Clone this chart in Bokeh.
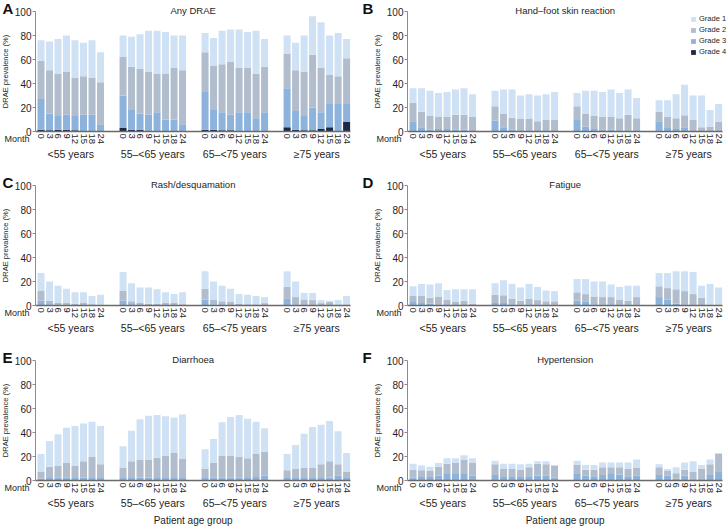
import math
from bokeh.plotting import figure
from bokeh.layouts import gridplot
from bokeh.models import (Range1d, FixedTicker, Label, Legend, LegendItem,
                          ColumnDataSource, LinearAxis)
from bokeh.embed import file_html
from bokeh.resources import INLINE

groups = ["<55 years", "55\u2013<65 years", "65\u2013<75 years", "\u226575 years"]
months = ["0", "3", "6", "9", "12", "15", "18", "24"]
grade_labels = ["Grade 1", "Grade 2", "Grade 3", "Grade 4"]
grade_colors = ["#cfe1f5", "#b1bdcd", "#8db3dc", "#1c2943"]

# cumulative levels (total, top of grade 2, top of grade 3, top of grade 4)
any_total = [76, 75, 77, 80, 76, 74, 76, 66, 80, 79, 81, 84, 84, 83, 80, 80,
             82, 78, 84, 85, 85, 83, 84, 77, 80, 74, 80, 96, 91, 80, 82, 77]
any_g2 = [59, 51, 48, 50, 45, 46, 45, 41, 62, 54, 52, 50, 48, 48, 53, 51,
          66, 55, 56, 58, 53, 53, 48, 54, 65, 51, 50, 64, 53, 47, 46, 61]
any_g3 = [27, 15, 13, 14, 13, 14, 14, 6, 30, 18, 15, 14, 16, 10, 10, 6,
          33, 18, 16, 14, 16, 16, 11, 16, 36, 17, 13, 20, 16, 23, 23, 23]
any_g4 = [1.5, 1, 1.5, 1.5, 1, 0, 0, 0, 3, 1.5, 1.5, 0.5, 0, 0, 0, 0,
          1.5, 1.5, 1, 1, 0, 0, 0, 0, 3.5, 1.5, 1, 1, 2, 3.5, 0, 8]

hfs_total = [36, 36, 34, 32, 33, 35, 36, 31, 34, 35, 35, 30, 31, 30, 31, 33,
             32, 34, 34, 33, 35, 32, 35, 28, 26, 26, 31, 39, 30, 30, 18, 23]
hfs_g2 = [24, 16.5, 13, 12, 12.5, 14, 14, 12, 21, 14.5, 11.5, 10.5, 10.5, 8.5, 10, 9.5,
          21, 15, 13, 12, 12, 11, 14, 11, 16.5, 12, 11, 13.5, 9.5, 3.5, 4, 8]
hfs_g3 = [8.5, 3.5, 1.5, 2, 2, 1.5, 1.5, 0, 9, 3.5, 1.5, 1, 1, 0.5, 1, 0.5,
          9.5, 4, 2, 1.5, 1.5, 1, 1, 0.5, 8.5, 3, 2, 3.5, 0, 0, 0, 0]
hfs_g4 = [0, 0, 0, 0, 0, 0, 0, 0, 0, 0, 0, 0, 0, 0, 0, 0,
          0, 0, 0, 0, 0, 0, 0, 0, 0, 0, 0, 0, 0, 0, 0, 0]

rash_total = [27, 20, 16.5, 14, 11, 11, 8, 9, 28, 18.5, 15, 15, 13.5, 11, 9.5, 11,
              28.5, 20, 16.5, 14, 9.5, 9, 8, 7, 28.5, 20, 10.5, 10.5, 4.5, 4, 4.5, 8]
rash_g2 = [12, 4, 2, 2.5, 1.5, 2.5, 1, 0, 12, 3.5, 2, 1.5, 1.5, 2.5, 2.5, 1,
           14, 5, 3.5, 3, 1.5, 1, 1, 2, 15.5, 7, 5, 4.5, 2, 3, 0, 0]
rash_g3 = [4, 0.5, 0, 0, 0, 0, 0, 0, 4, 0.5, 0, 0, 0, 0, 0, 0,
           5, 1, 0, 0, 0, 0, 0, 0, 5.5, 0.5, 0, 0, 0, 0, 0, 0]

fat_total = [16, 18, 17.5, 18.5, 13, 13.5, 13.5, 13.5, 18.5, 21, 18, 15, 18, 15.5, 12.5, 12,
             22, 22, 20, 20, 17.5, 15.5, 16.5, 16.5, 27, 27, 28.5, 28.5, 28, 16.5, 18, 15]
fat_g2 = [8, 8, 6.5, 7.5, 4.5, 3, 4, 1.5, 9, 8.5, 5.5, 4, 5.5, 4.5, 3.5, 3.5,
          11, 9.5, 7.5, 7, 7, 5, 4, 7, 16, 14.5, 13.5, 12, 9.5, 6.5, 0, 0]
fat_g3 = [3, 2, 1.5, 1, 1, 0.5, 0.5, 0.5, 2, 2, 1, 1, 1, 0.5, 0.5, 0.5,
          4, 3, 1, 1, 1, 0.5, 0.5, 0.5, 7, 5, 1.5, 1, 0.5, 0, 0, 0]

dia_total = [22, 33, 38.5, 44, 45.5, 47.5, 49, 45.5, 28.5, 41.5, 51, 54, 54.5, 53.5, 52.5, 55,
             26, 34.5, 48.5, 53, 54.5, 51.5, 49, 43.5, 22, 29.5, 39, 44.5, 46.5, 49.5, 41, 23]
dia_g2 = [7.5, 11.5, 12.5, 14.5, 12, 16, 19.5, 13.5, 10.5, 16, 17.5, 17, 19, 20.5, 23, 18,
          10, 15, 20.5, 20.5, 19.5, 18.5, 22.5, 24, 8.5, 10, 10.5, 10.5, 13.5, 16, 13.5, 7.5]
dia_g3 = [1.5, 2, 2.5, 2.5, 2, 2.5, 2, 2, 2, 2, 2.5, 2.5, 2, 2, 2, 2,
          2, 2.5, 2.5, 2.5, 2.5, 2, 3, 4, 2, 2, 2, 2, 2, 2.5, 4, 2]

hyp_total = [14, 12.5, 11.5, 14.5, 18.5, 18.5, 21, 18.5, 16.5, 14, 14, 13.5, 14, 16, 16, 12.5,
             16.5, 13, 13, 15, 15, 15, 15, 17.5, 13.5, 9.5, 11, 15, 16, 13, 17.5, 22.5]
hyp_g2 = [9, 8.5, 8, 11.5, 14, 14.5, 17.5, 15, 13.5, 10, 9.5, 9, 11, 14, 13.5, 12.5,
          13, 9, 9, 11, 11, 11, 9.5, 10.5, 11, 8, 6, 9, 7, 10, 13.5, 22.5]
hyp_g3 = [2.5, 3, 3, 4, 5.5, 5.5, 5.5, 4, 4.5, 3, 3.5, 3, 3.5, 4, 4, 2.5,
          5.5, 4, 3.5, 4.5, 5.5, 5, 3.5, 4, 4.5, 4, 1.5, 4, 0, 0, 4.5, 7]

panels = [
    ("A", "Any DRAE", any_total, any_g2, any_g3, any_g4),
    ("B", "Hand\u2013foot skin reaction", hfs_total, hfs_g2, hfs_g3, hfs_g4),
    ("C", "Rash/desquamation", rash_total, rash_g2, rash_g3, None),
    ("D", "Fatigue", fat_total, fat_g2, fat_g3, None),
    ("E", "Diarrhoea", dia_total, dia_g2, dia_g3, None),
    ("F", "Hypertension", hyp_total, hyp_g2, hyp_g3, None),
]

FONT = "Liberation Sans"
TXT = "#1e1e1e"

# layout (pixels) and x-unit geometry
col_w = [360, 367]
col_axis = [35, 47]
row_h = [174, 175, 177]
TOP = 11          # px from figure top to the 100 line
PX_PER_PCT = 1.2
PX_PER_XU = 0.425
BAR_PITCH = 20
GROUP_PITCH = 193
FIRST = 13
BAR_W = 16.5

bar_x = [g * GROUP_PITCH + FIRST + m * BAR_PITCH
         for g in range(len(groups)) for m in range(len(months))]
month_ticks = {bar_x[g * len(months) + m]: months[m]
               for g in range(len(groups)) for m in range(len(months))}
group_x = [g * GROUP_PITCH + FIRST + (len(months) - 1) * BAR_PITCH // 2
           for g in range(len(groups))]
x_end = bar_x[-1] + BAR_PITCH // 2


def make_panel(i, letter, title, tot, g2, g3, g4):
    row, col = divmod(i, 2)
    W, H = col_w[col], row_h[row]
    ax = col_axis[col]
    x0 = -ax / PX_PER_XU
    x1 = (W - ax) / PX_PER_XU
    y1 = 100 + TOP / PX_PER_PCT
    y0 = -(H - TOP - 100 * PX_PER_PCT) / PX_PER_PCT
    p = figure(x_range=Range1d(x0, x1), y_range=Range1d(y0, y1),
               width=W, height=H, output_backend="svg", toolbar_location=None,
               x_axis_type=None, y_axis_type=None,
               min_border=0, min_border_left=0, min_border_right=0,
               min_border_top=0, min_border_bottom=0)
    p.title.visible = False
    p.outline_line_color = None
    p.background_fill_color = "white"
    p.border_fill_color = "white"

    data = dict(x=bar_x, tot=tot, g2=g2, g3=g3)
    if g4 is not None:
        data["g4"] = g4
    src = ColumnDataSource(data)
    rends = {}
    if g4 is not None:
        rends[4] = p.vbar(x="x", bottom=0, top="g4", width=BAR_W, source=src,
                          fill_color=grade_colors[3], line_color=None)
        rends[3] = p.vbar(x="x", bottom="g4", top="g3", width=BAR_W, source=src,
                          fill_color=grade_colors[2], line_color=None)
    else:
        rends[3] = p.vbar(x="x", bottom=0, top="g3", width=BAR_W, source=src,
                          fill_color=grade_colors[2], line_color=None)
    rends[2] = p.vbar(x="x", bottom="g3", top="g2", width=BAR_W, source=src,
                      fill_color=grade_colors[1], line_color=None)
    rends[1] = p.vbar(x="x", bottom="g2", top="tot", width=BAR_W, source=src,
                      fill_color=grade_colors[0], line_color=None)

    # y axis (fixed at x = 0)
    ya = LinearAxis(fixed_location=0, bounds=(0, 100),
                    ticker=FixedTicker(ticks=[0, 20, 40, 60, 80, 100]))
    ya.minor_tick_line_color = None
    ya.major_tick_in = 0
    ya.major_tick_out = 3
    ya.axis_line_color = "#8c8c8c"
    ya.major_tick_line_color = "#8c8c8c"
    ya.major_label_text_font = FONT
    ya.major_label_text_font_size = "10px"
    ya.major_label_text_color = TXT
    ya.major_label_standoff = 1
    p.add_layout(ya, "left")

    # month axis (fixed at y = 0)
    xa = LinearAxis(fixed_location=0, bounds=(0, x_end),
                    ticker=FixedTicker(ticks=bar_x),
                    major_label_overrides=month_ticks)
    xa.axis_line_color = "#6a6a6a"
    xa.axis_line_width = 1.3
    xa.major_tick_line_color = None
    xa.major_tick_in = 0
    xa.major_tick_out = 0
    xa.minor_tick_line_color = None
    xa.major_label_orientation = -math.pi / 2
    xa.major_label_text_font = FONT
    xa.major_label_text_font_size = "9.5px"
    xa.major_label_text_color = TXT
    xa.major_label_standoff = 2
    p.add_layout(xa, "below")

    # age-group axis
    ga = LinearAxis(fixed_location=0, ticker=FixedTicker(ticks=group_x),
                    major_label_overrides={gx: gname for gx, gname in zip(group_x, groups)})
    ga.axis_line_color = None
    ga.major_tick_line_color = None
    ga.minor_tick_line_color = None
    ga.major_tick_in = 0
    ga.major_tick_out = 0
    ga.major_label_text_font = FONT
    ga.major_label_text_font_size = "10.5px"
    ga.major_label_text_color = TXT
    ga.major_label_standoff = 16
    p.add_layout(ga, "below")

    bars_cx = ax + (x_end / 2) * PX_PER_XU
    p.add_layout(Label(x=bars_cx, y=H - 10, x_units="screen", y_units="screen",
                       text=title, text_align="center", text_baseline="middle",
                       text_font=FONT, text_font_size="9.5px", text_color=TXT))
    p.add_layout(Label(x=2, y=H + 1, x_units="screen", y_units="screen",
                       text=letter, text_align="left", text_baseline="top",
                       text_font=FONT, text_font_size="15px",
                       text_font_style="bold", text_color="#111111"))
    p.add_layout(Label(x=ax - 30, y=H - TOP - 50 * PX_PER_PCT, x_units="screen",
                       y_units="screen", angle=math.pi / 2,
                       text="DRAE prevalence (%)", text_align="center",
                       text_baseline="middle", text_font=FONT,
                       text_font_size="7.5px", text_color=TXT))
    p.add_layout(Label(x=ax - 6, y=H - TOP - 100 * PX_PER_PCT - 2,
                       x_units="screen", y_units="screen", text="Month",
                       text_align="right", text_baseline="top", text_font=FONT,
                       text_font_size="9px", text_color=TXT))
    if row == 2:
        p.add_layout(Label(x=bars_cx, y=6, x_units="screen", y_units="screen",
                           text="Patient age group", text_align="center",
                           text_baseline="middle", text_font=FONT,
                           text_font_size="10px", text_color=TXT))

    if letter == "B":
        items = [LegendItem(label=grade_labels[k - 1], renderers=[rends[k]])
                 for k in (1, 2, 3, 4)]
        lg = Legend(items=items, location=(W - 37, H - 56))
        lg.label_text_font = FONT
        lg.label_text_font_size = "7.5px"
        lg.label_text_color = TXT
        lg.glyph_width = 6
        lg.glyph_height = 6
        lg.label_height = 8
        lg.label_standoff = 3
        lg.spacing = 2
        lg.padding = 0
        lg.margin = 0
        lg.background_fill_alpha = 0
        lg.border_line_color = None
        p.add_layout(lg)
    return p


figs = [make_panel(i, *pn) for i, pn in enumerate(panels)]
grid = gridplot([[figs[0], figs[1]], [figs[2], figs[3]], [figs[4], figs[5]]],
                toolbar_location=None)

open("out.html", "w").write(file_html(grid, INLINE))
